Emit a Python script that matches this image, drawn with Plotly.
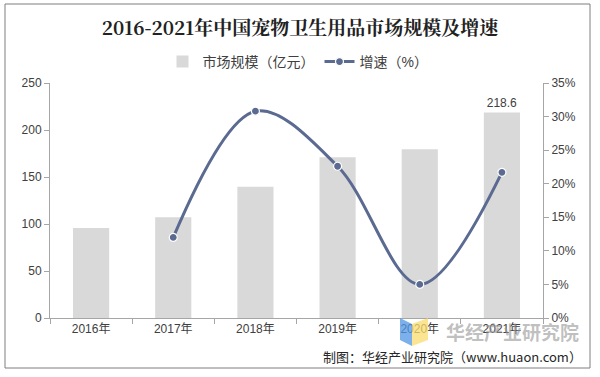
import plotly.graph_objects as go

years = ["2016年", "2017年", "2018年", "2019年", "2020年", "2021年"]
market_size = [95.8, 107.3, 139.5, 171.0, 179.6, 218.6]
growth_years = ["2017年", "2018年", "2019年", "2020年", "2021年"]
growth_rate = [12.0, 30.8, 22.6, 5.0, 21.7]
bar_labels = ["", "", "", "", "", "218.6"]

L, R, T, B = 50, 57, 83, 59
W, H = 600, 377
pw, ph = W - L - R, H - T - B


def px(x):
    return (x - L) / pw


def py(y):
    return (H - B - y) / ph


font_main = "Liberation Sans, Arial, Noto Sans CJK SC, sans-serif"
fig = go.Figure()
fig.add_trace(go.Bar(
    x=years, y=market_size, name="市场规模（亿元）",
    marker=dict(color="#d9d9d9", line=dict(width=0)),
    width=0.44, text=bar_labels, textposition="outside",
    textfont=dict(size=12, color="#404040"), cliponaxis=False,
))
fig.add_trace(go.Scatter(
    x=growth_years, y=growth_rate, name="增速（%）", yaxis="y2",
    mode="lines+markers",
    line=dict(color="#5b6a91", width=3, shape="spline", smoothing=1.0),
    marker=dict(size=8, color="#5b6a91", line=dict(color="white", width=1.2)),
))

fig.update_layout(
    width=W, height=H,
    margin=dict(l=L, r=R, t=T, b=B, autoexpand=False),
    paper_bgcolor="white", plot_bgcolor="white",
    font=dict(family=font_main, size=12, color="#404040"),
    title=dict(text="<b>2016-2021年中国宠物卫生用品市场规模及增速</b>",
               x=0.5, xref="container", xanchor="center",
               y=1 - 28 / H, yref="container", yanchor="middle",
               font=dict(family="Noto Serif CJK SC, Noto Sans CJK SC, serif", size=19, color="#222222")),
    legend=dict(orientation="h", x=px(298), xanchor="center",
                y=py(62), yanchor="middle", font=dict(size=14, color="#404040"),
                bgcolor="rgba(0,0,0,0)", traceorder="normal"),
    bargap=0.56,
    xaxis=dict(showgrid=False, showline=True, linecolor="#a6a6a6", linewidth=1,
               ticks="outside", tickcolor="#a6a6a6", ticklen=5, tickangle=0,
               tickson="boundaries", tickfont=dict(size=12, color="#404040")),
    yaxis=dict(range=[0, 250], dtick=50, showgrid=False, showline=True,
               linecolor="#a6a6a6", ticks="outside", tickcolor="#a6a6a6", ticklen=5,
               zeroline=False, tickfont=dict(size=12, color="#404040")),
    yaxis2=dict(range=[0, 35], dtick=5, ticksuffix="%", overlaying="y", side="right",
                showgrid=False, showline=True, linecolor="#a6a6a6", ticks="outside",
                tickcolor="#a6a6a6", ticklen=5, zeroline=False,
                tickfont=dict(size=12, color="#404040")),
    shapes=[
        dict(type="rect", xref="paper", yref="paper", x0=px(5), x1=px(590),
             y0=py(368), y1=py(4), line=dict(color="#7f7f7f", width=1), layer="below"),
        dict(type="path", xref="paper", yref="paper",
             path=f"M {px(400)},{py(318)} L {px(412)},{py(324)} L {px(412)},{py(346)} L {px(400)},{py(340)} Z",
             fillcolor="rgba(80,150,230,0.75)", line=dict(width=0)),
        dict(type="path", xref="paper", yref="paper",
             path=f"M {px(412)},{py(324)} L {px(428)},{py(318)} L {px(428)},{py(340)} L {px(412)},{py(346)} Z",
             fillcolor="rgba(250,220,110,0.75)", line=dict(width=0)),
    ],
    annotations=[
        dict(text="<b>华经产业研究院</b>", xref="paper", yref="paper", x=px(581), y=py(331),
             xanchor="right", yanchor="middle", showarrow=False,
             font=dict(family="Noto Sans CJK SC", size=19, color="rgba(150,150,150,0.6)")),
        dict(text="制图：华经产业研究院（www.huaon.com）", xref="paper", yref="paper",
             x=px(584), y=py(356), xanchor="right", yanchor="middle", showarrow=False,
             font=dict(family="Noto Sans CJK SC, Liberation Sans", size=13, color="#262626")),
    ],
)

fig.write_html("out.html", config={"displayModeBar": False},
               post_script="document.body.style.margin='0';")
